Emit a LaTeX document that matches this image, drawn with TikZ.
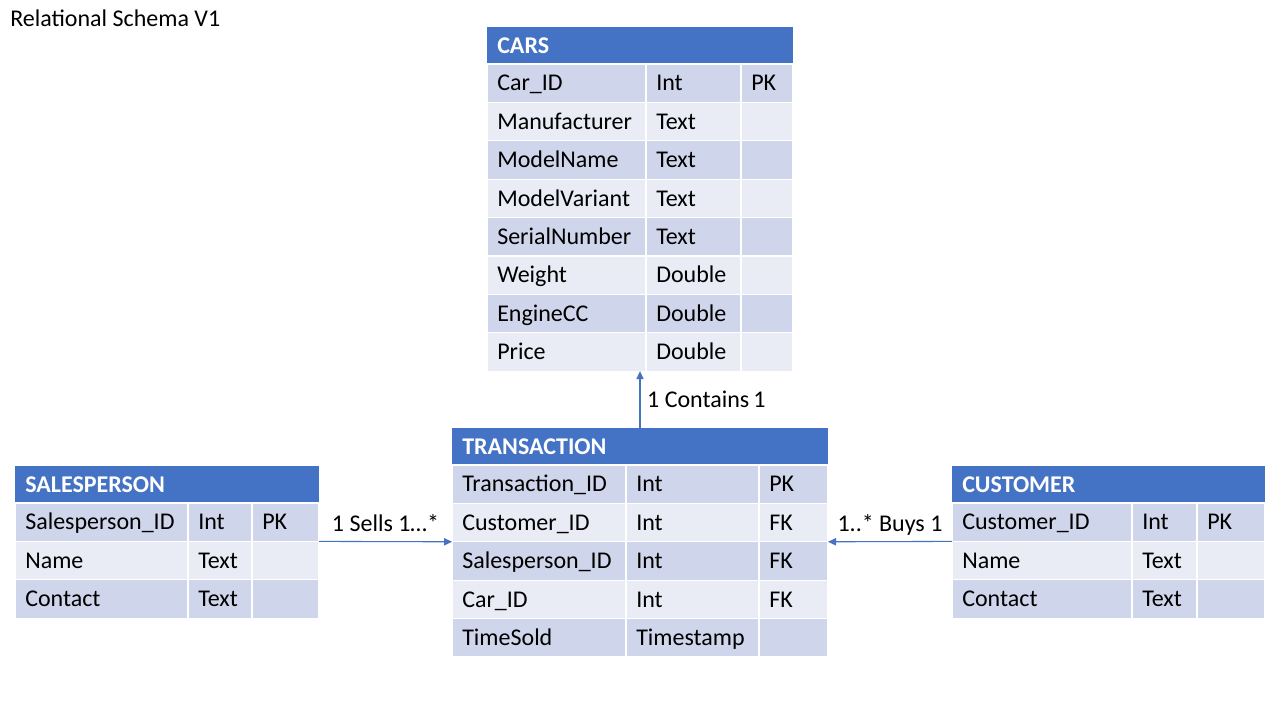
\documentclass[tikz,border=0pt]{standalone}
\usepackage{fontspec}
\setmainfont{Carlito}
\usetikzlibrary{arrows.meta}
\definecolor{hdrblue}{HTML}{4472C4}
\definecolor{rowdark}{HTML}{CFD5EA}
\definecolor{rowlight}{HTML}{E9EBF5}
\tikzset{
  cellbg/.style={draw=white, line width=0.9pt, inner sep=0pt, outer sep=0pt},
  hdr/.style={fill=hdrblue, draw=none, inner sep=0pt, outer sep=0pt},
  celltxt/.style={inner sep=0pt, font=\fontsize{18}{22}\selectfont, text=black, text height=14pt, text depth=2.4pt},
  hdrtxt/.style={inner sep=0pt, font=\fontsize{18}{22}\selectfont\bfseries, text=white, text height=14pt, text depth=2.4pt},
  conn/.style={draw=hdrblue, line width=0.8pt, -{Triangle[length=6pt,width=5.5pt]}},
  lbl/.style={font=\fontsize{18}{22}\selectfont, text=black, inner sep=3pt, text height=14pt, text depth=2.4pt},
}
\newcommand\ecell[7]{%
  \node[cellbg, fill=#6, minimum width=(#4)*0.75pt, minimum height=(#5)*0.75pt, anchor=north west] (#1) at (#2,#3) {};
  \node[celltxt, anchor=west] (#1-t) at ([xshift=7.5pt]#1.west) {#7};}
\newcommand\ertable[8]{%
  \node[hdr, minimum width=(#5-#2)*0.75pt, minimum height=37*0.75pt, anchor=north west] (#1) at (#2,#6) {};
  \node[hdrtxt, anchor=west] (#1-title) at ([xshift=7.5pt]#1.west) {#7};
  \foreach \a/\b/\c [count=\i] in {#8} {
    \pgfmathsetmacro\yy{#6+37+(\i-1)*38.4}
    \ifodd\i \def\rf{rowdark}\else\def\rf{rowlight}\fi
    \ecell{#1-\i-1}{#2}{\yy}{#3-#2}{38.4}{\rf}{\a}
    \ecell{#1-\i-2}{#3}{\yy}{#4-#3}{38.4}{\rf}{\b}
    \ecell{#1-\i-3}{#4}{\yy}{#5-#4}{38.4}{\rf}{\c}
  }
  \draw[white, line width=2.2pt] (#1.south west) -- (#1.south east);
}
\begin{document}
\begin{tikzpicture}[x=0.75pt,y=-0.75pt]
\useasboundingbox[fill=white] (0,0) rectangle (1280,720);
\node[celltxt, anchor=base west] (title) at (10,27) {Relational Schema V1};

\ertable{cars}{487}{646}{741}{793}{27}{CARS}{Car\_ID/Int/PK, Manufacturer/Text/, ModelName/Text/, ModelVariant/Text/, SerialNumber/Text/, Weight/Double/, EngineCC/Double/, Price/Double/}

\ertable{trans}{452}{626}{759}{828}{428}{TRANSACTION}{Transaction\_ID/Int/PK, Customer\_ID/Int/FK, Salesperson\_ID/Int/FK, Car\_ID/Int/FK, TimeSold/Timestamp/}

\ertable{sales}{15}{188}{252}{319}{466}{SALESPERSON}{Salesperson\_ID/Int/PK, Name/Text/, Contact/Text/}

\ertable{cust}{952}{1132}{1197}{1265}{466}{CUSTOMER}{Customer\_ID/Int/PK, Name/Text/, Contact/Text/}

\draw[conn] (trans.north) -- (trans.north |- cars-8-2.south) node[lbl, midway, right, xshift=2pt] {1 Contains\,1};
\draw[conn] (sales-1-3.south east) -- (trans-2-1.south west) node[lbl, midway, above, yshift=2pt] {1 Sells 1…*};
\draw[conn] (cust-1-1.south west) -- (trans-2-3.south east) node[lbl, midway, above, yshift=2pt] {1..* Buys 1};
\end{tikzpicture}
\end{document}
